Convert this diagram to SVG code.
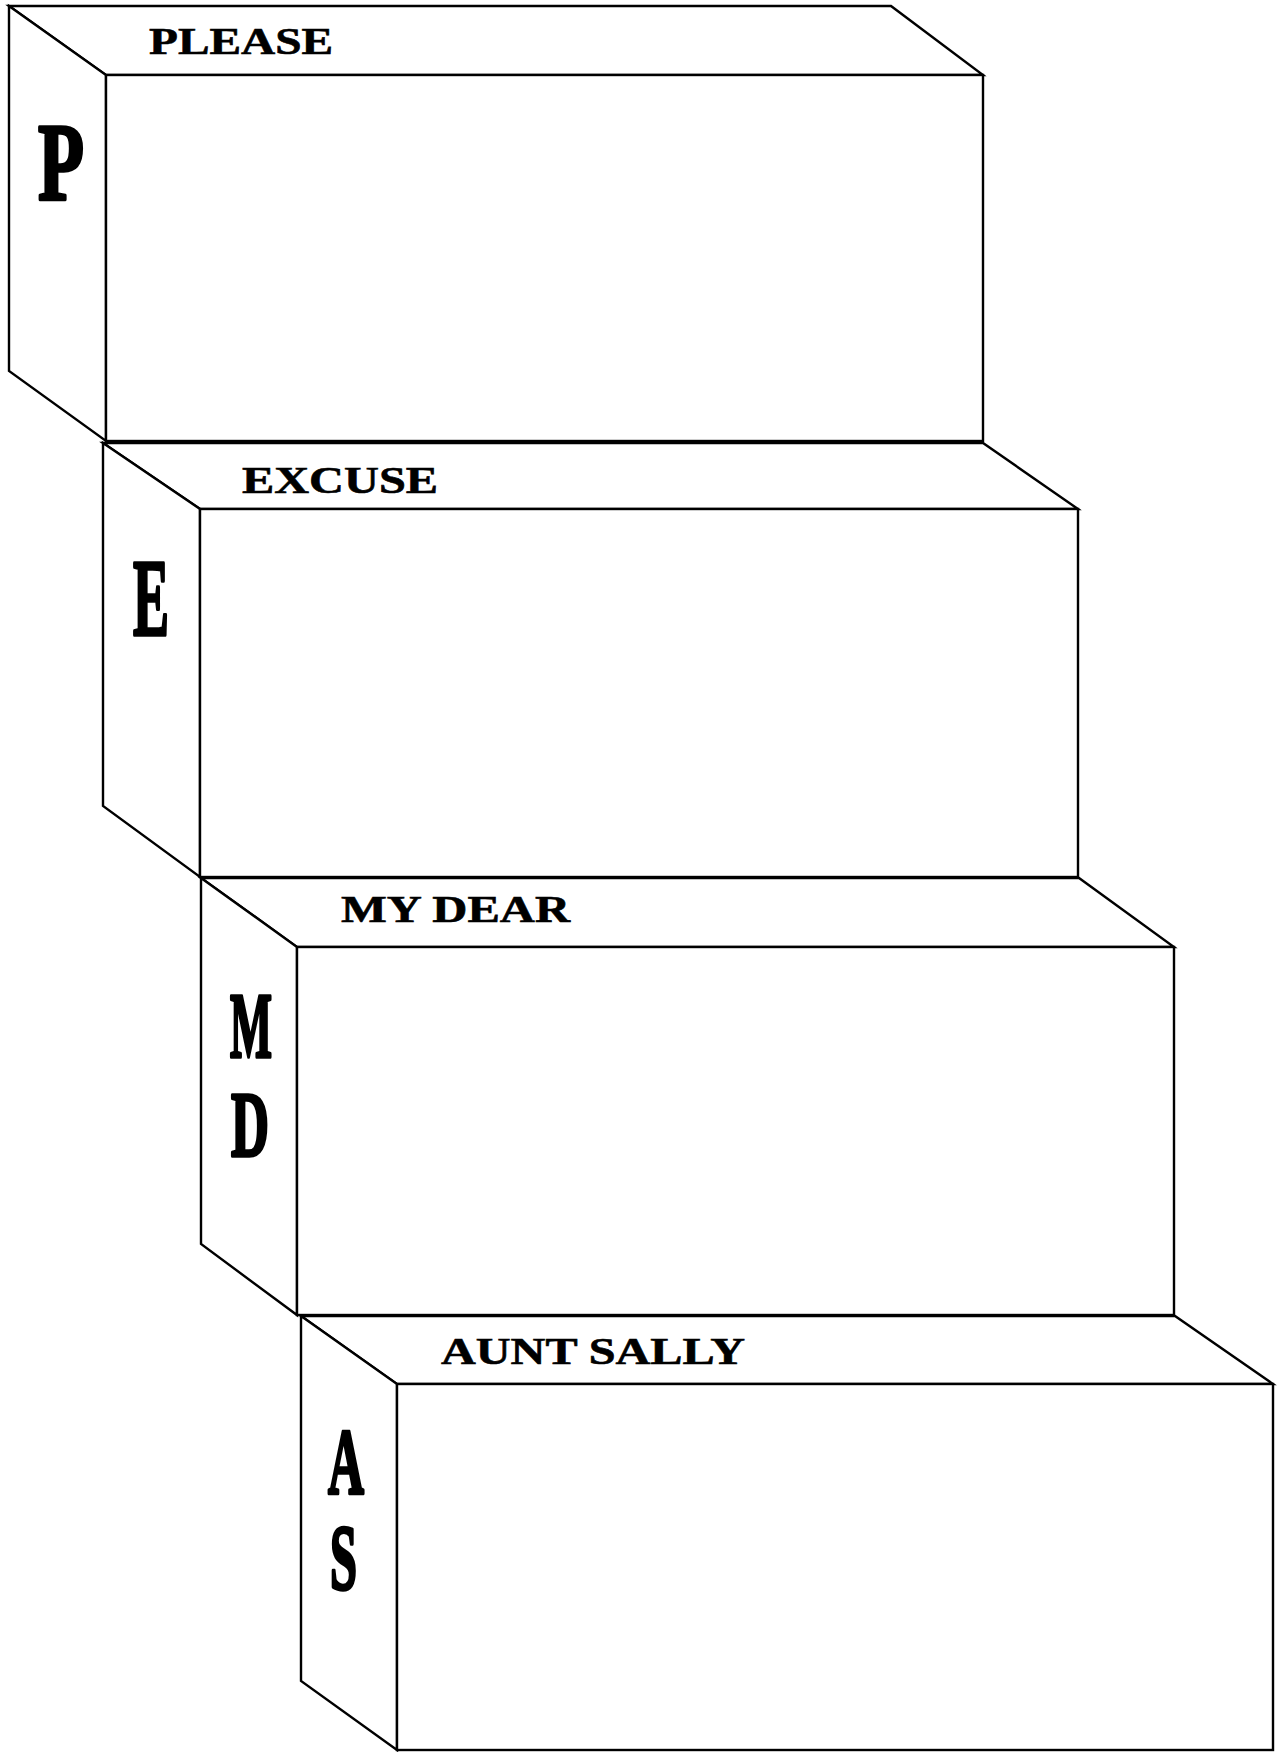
<svg xmlns="http://www.w3.org/2000/svg" width="1277" height="1752" viewBox="0 0 1277 1752">
<style>
.f{fill:#fff;stroke:#000;stroke-width:2.4;stroke-linejoin:miter}
.lbl{font-family:"Liberation Serif","Times New Roman",serif;font-weight:bold;font-size:38px;fill:#000;stroke:#000;stroke-width:0.6}
.big{font-family:"Liberation Serif","Times New Roman",serif;font-weight:900;fill:#000;stroke:#000;stroke-width:3.5;stroke-linejoin:round}
</style>
<rect x="0" y="0" width="1277" height="1752" fill="#fff"/>
<g id="box-p">
<polygon class="f" points="9,6 891,6 983,75 106,75"/>
<polygon class="f" points="9,6 106,75 106,441 9,371"/>
<rect class="f" x="106" y="75" width="877" height="366"/>
<text class="lbl" x="149" y="54" textLength="184" lengthAdjust="spacingAndGlyphs">PLEASE</text>
<text class="big" x="38" y="199" font-size="111" textLength="46" lengthAdjust="spacingAndGlyphs">P</text>
</g>
<g id="box-e">
<polygon class="f" points="103,443 983,443 1078,509 200,509"/>
<polygon class="f" points="103,443 200,509 200,877 103,806"/>
<rect class="f" x="200" y="509" width="878" height="368"/>
<text class="lbl" x="242" y="493" textLength="196" lengthAdjust="spacingAndGlyphs">EXCUSE</text>
<text class="big" x="133" y="635" font-size="111" textLength="36" lengthAdjust="spacingAndGlyphs">E</text>
</g>
<g id="box-md">
<polygon class="f" points="201,878 1079,878 1174,947 297,947"/>
<polygon class="f" points="201,878 297,947 297,1315 201,1244"/>
<rect class="f" x="297" y="947" width="877" height="368"/>
<text class="lbl" x="341" y="922" textLength="229" lengthAdjust="spacingAndGlyphs">MY DEAR</text>
<text class="big" font-size="93"><tspan x="230" y="1057" textLength="42" lengthAdjust="spacingAndGlyphs">M</tspan><tspan x="231" y="1156" textLength="38" lengthAdjust="spacingAndGlyphs">D</tspan></text>
</g>
<g id="box-as">
<polygon class="f" points="301,1316 1175,1316 1273,1384 397,1384"/>
<polygon class="f" points="301,1316 397,1384 397,1750 301,1681"/>
<rect class="f" x="397" y="1384" width="876" height="366"/>
<text class="lbl" x="441" y="1364" textLength="304" lengthAdjust="spacingAndGlyphs">AUNT SALLY</text>
<text class="big" font-size="93"><tspan x="328" y="1493" textLength="36" lengthAdjust="spacingAndGlyphs">A</tspan><tspan x="330" y="1589" textLength="27" lengthAdjust="spacingAndGlyphs">S</tspan></text>
</g>
<g id="connectors"></g>
</svg>
